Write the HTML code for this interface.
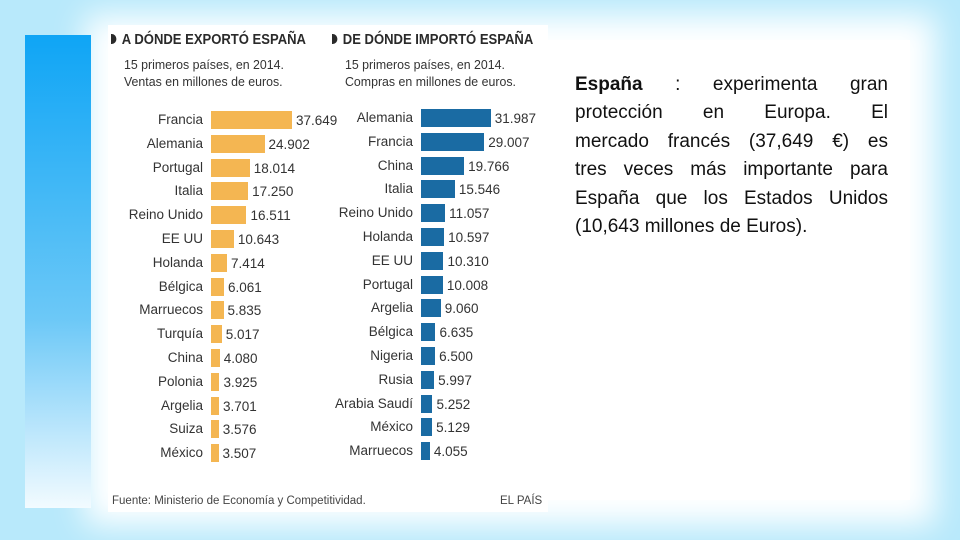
<!DOCTYPE html>
<html><head><meta charset="utf-8">
<style>
html,body{margin:0;padding:0}
body{width:960px;height:540px;position:relative;overflow:hidden;background:#b8e9fb;font-family:"Liberation Sans",sans-serif}
#glow{position:absolute;left:110px;top:40px;width:800px;height:460px;background:#fff;box-shadow:0 0 30px 25px #fff;}
#sidebar{position:absolute;left:25px;top:35px;width:66px;height:473px;background:linear-gradient(#0fa5f5,#6cc8f7 60%,#f2fbff)}
#panel{position:absolute;left:108px;top:25px;width:440px;height:487px;background:#fff}
.t{position:absolute;white-space:nowrap;color:#333}
.h{font-weight:bold;font-size:14.5px;color:#2a2a2a;transform:scaleX(0.9);transform-origin:left top}
.mk{display:inline-block;width:6px;height:10px;background:#2a2a2a;border-radius:0 5px 5px 0;margin-right:6px;vertical-align:0}
.s{font-size:13px;color:#333;transform:scaleX(0.95);transform-origin:left top}
.lab{font-size:13.5px;color:#333;text-align:right;width:100px}
.val{font-size:13.5px;color:#333}
.bar{position:absolute;height:18px}
#txt{position:absolute;left:575px;top:71px;width:313px;font-size:19px;line-height:28.4px;color:#111}
#txt span{display:block;text-align:justify;text-align-last:justify;white-space:nowrap}
#txt span.last{text-align-last:left}
</style></head><body>
<div id="glow"></div>
<div id="sidebar"></div>
<div id="panel">
  <div class="t h" style="left:3px;top:7px"><span class="mk"></span>A DÓNDE EXPORTÓ ESPAÑA</div>
  <div class="t h" style="left:224px;top:7px"><span class="mk"></span>DE DÓNDE IMPORTÓ ESPAÑA</div>
  <div class="t s" style="left:16px;top:31px;line-height:17px">15 primeros países, en 2014.<br>Ventas en millones de euros.</div>
  <div class="t s" style="left:237px;top:31px;line-height:17px">15 primeros países, en 2014.<br>Compras en millones de euros.</div>
  <div class="t" style="left:4px;top:470px;font-size:11.5px;color:#444">Fuente: Ministerio de Economía y Competitividad.</div>
  <div class="t" style="left:392px;top:470px;font-size:11.5px;color:#444">EL PAÍS</div>
</div>
<div id="txt"><span><b>España</b> : experimenta gran</span><span>protección en Europa. El</span><span>mercado francés (37,649 €) es</span><span>tres veces más importante para</span><span>España que los Estados Unidos</span><span class="last">(10,643 millones de Euros).</span></div>
<script>
const exportCountries=["Francia","Alemania","Portugal","Italia","Reino Unido","EE UU","Holanda","Bélgica","Marruecos","Turquía","China","Polonia","Argelia","Suiza","México"];
const exportValues=[37.649,24.902,18.014,17.250,16.511,10.643,7.414,6.061,5.835,5.017,4.080,3.925,3.701,3.576,3.507];
const importCountries=["Alemania","Francia","China","Italia","Reino Unido","Holanda","EE UU","Portugal","Argelia","Bélgica","Nigeria","Rusia","Arabia Saudí","México","Marruecos"];
const importValues=[31.987,29.007,19.766,15.546,11.057,10.597,10.310,10.008,9.060,6.635,6.500,5.997,5.252,5.129,4.055];
const fmt=v=>v.toFixed(3);
function draw(cats,vals,x0,y0,scale,color,prefix){
  const p=document.getElementById('panel');
  const step=23.8;
  cats.forEach((c,i)=>{
    const yc=y0+i*step;
    const w=vals[i]*scale;
    const l=document.createElement('div');
    l.className='t lab';
    
    
    l.style.left=(x0-108-8-100)+'px';l.style.top=(yc-25-8)+'px';
    l.textContent=c;p.appendChild(l);
    const b=document.createElement('div');
    b.className='bar';
    
    
    b.style.left=(x0-108)+'px';b.style.top=(yc-25-9)+'px';b.style.width=w+'px';b.style.background=color;
    p.appendChild(b);
    const v=document.createElement('div');
    v.className='t val';
    
    
    v.style.left=(x0-108+w+4)+'px';v.style.top=(yc-25-7)+'px';
    v.textContent=fmt(vals[i]);p.appendChild(v);
  });
}
draw(exportCountries,exportValues,211,120,2.15,'#f4b652','export');
draw(importCountries,importValues,421,118,2.18,'#1a6ba3','import');
</script>
</body></html>
